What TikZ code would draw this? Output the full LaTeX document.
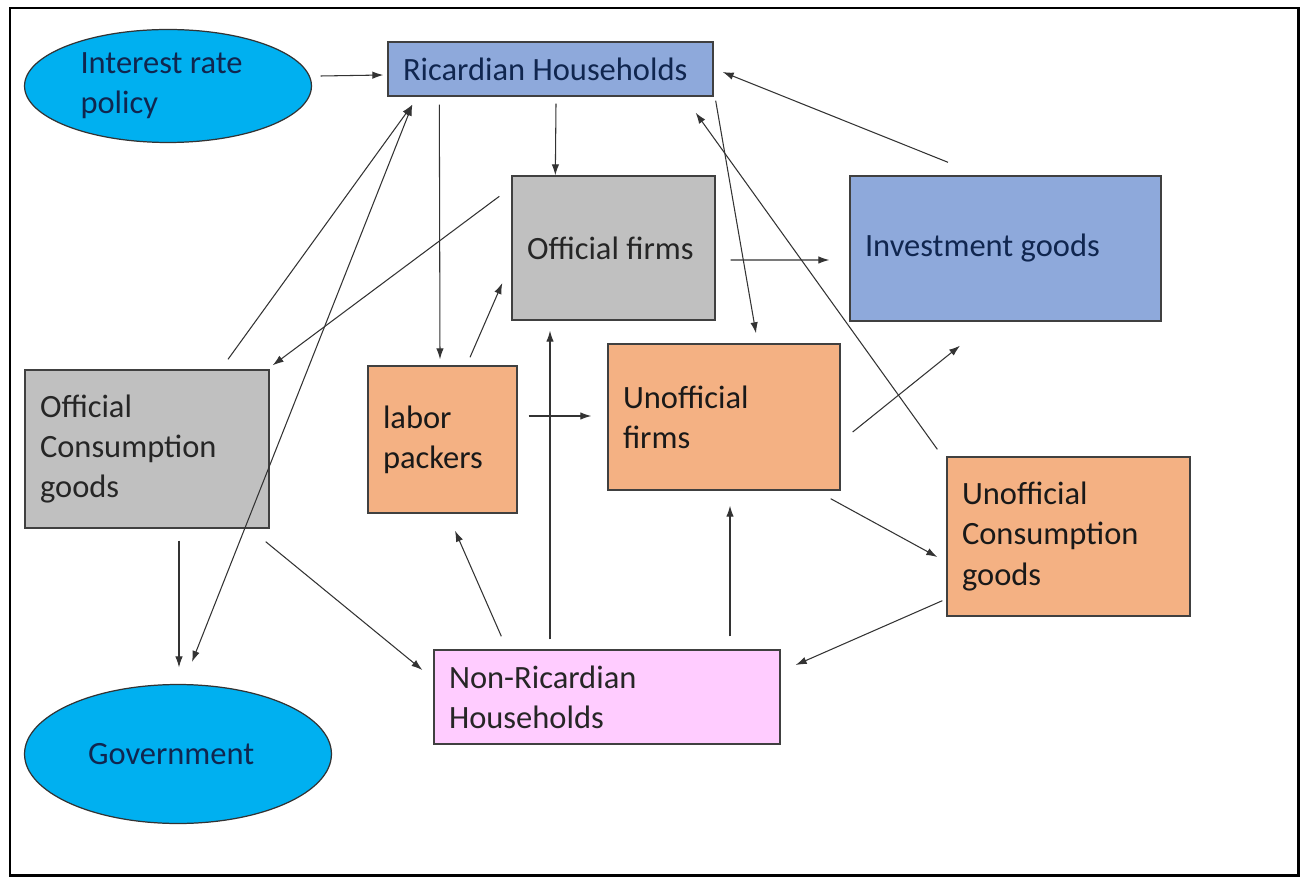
\documentclass[tikz,border=0pt]{standalone}
\usepackage{fontspec}
\setmainfont{Carlito}
\usepackage{tikz}
\usetikzlibrary{shapes,arrows.meta,positioning,calc}

\definecolor{policyblue}{HTML}{00B0F0}
\definecolor{hhblue}{HTML}{8EA9DB}
\definecolor{firmgray}{HTML}{C0C0C0}
\definecolor{informal}{HTML}{F4B183}
\definecolor{nonric}{HTML}{FFCCFF}
\definecolor{navytext}{HTML}{10264F}

\begin{document}
\begin{tikzpicture}[x=0.02cm, y=-0.02cm,
    sector/.style={rectangle, draw=black!75, line width=0.8pt, inner sep=0pt, align=flush left, font=\fontsize{18.5}{22.8}\selectfont},
    agent/.style={ellipse, draw=black!80, line width=0.7pt, fill=policyblue, text=navytext, inner sep=2pt, font=\fontsize{18.5}{22.8}\selectfont},
    arrow/.style={->, >={Latex[length=2.2mm,width=1.5mm]}, draw=black!80, line width=0.6pt}
]
\useasboundingbox (0,0) rectangle (1301,878);
\draw[line width=1.7pt] (10,8) rectangle (1298,875);

% policy and government
\node[agent, minimum width=5.74cm, minimum height=2.26cm, text width=3.5cm, align=flush left] (policy) at (168,86) {Interest rate\\policy};
\node[agent, minimum width=6.14cm, minimum height=2.78cm, text width=3.6cm, align=flush left] (gov) at (178,754) {Government};

% households
\node[sector, fill=hhblue, text=navytext, minimum width=6.5cm, minimum height=1.08cm, text width=5.9cm] (ric) at (550.5,69) {Ricardian Households};
\node[sector, fill=nonric, text=black!85, minimum width=6.92cm, minimum height=1.88cm, text width=6.32cm] (nonric) at (607,697) {Non-Ricardian\\Households};

% official sector
\node[sector, fill=firmgray, text=black!85, minimum width=4.06cm, minimum height=2.88cm, text width=3.46cm] (offirms) at (613.5,248) {Official firms};
\node[sector, fill=firmgray, text=black!85, minimum width=4.88cm, minimum height=3.16cm, text width=4.28cm] (offcons) at (147,449) {Official\\Consumption\\goods};
\node[sector, fill=hhblue, text=navytext, minimum width=6.22cm, minimum height=2.9cm, text width=5.62cm] (invest) at (1005.5,248.5) {Investment goods};

% unofficial sector
\node[sector, fill=informal, text=black!90, minimum width=2.98cm, minimum height=2.94cm, text width=2.38cm] (labor) at (442.5,439.5) {labor\\packers};
\node[sector, fill=informal, text=black!90, minimum width=4.64cm, minimum height=2.92cm, text width=4.04cm] (unfirms) at (724,417) {Unofficial\\firms};
\node[sector, fill=informal, text=black!90, minimum width=4.86cm, minimum height=3.18cm, text width=4.26cm] (uncons) at (1068.5,536.5) {Unofficial\\Consumption\\goods};

% flows
\draw[arrow] ($(policy.east)+(8.5,-10)$) -- ($(ric.west)+(-4,6)$);
\draw[arrow] ($(offcons.north)+(81,-10)$) -- ($(ric.south west)+(25,8)$);
\draw[arrow, <->] ($(ric.south west)+(25,8)$) -- ($(gov.north)+(14,-22)$);
\draw[arrow] ($(offirms.north west)+(-12,21)$) -- ($(offcons.north east)+(3,-4)$);
\draw[arrow] ($(ric.south west)+(52,8)$) -- ($(labor.north)+(-2.5,-6)$);
\draw[arrow] ($(ric.south)+(5.5,7)$) -- ($(offirms.north west)+(44,0)$);
\draw[arrow] ($(labor.north)+(27.5,-8)$) -- ($(offirms.west)+(-9,35)$);
\draw[arrow] ($(offirms.east)+(15,12)$) -- ($(invest.west)+(-20,11.5)$);
\draw[arrow] ($(ric.south east)+(2,4)$) -- ($(unfirms.north)+(32,-10)$);
\draw[arrow] ($(uncons.north west)+(-9,-7)$) -- ($(ric.south east)+(-18,16)$);
\draw[arrow] ($(invest.north)+(-57.5,-13)$) -- ($(ric.east)+(9,3)$);
\draw[arrow] ($(labor.east)+(11,-23.5)$) -- ($(unfirms.west)+(-16,-1)$);
\draw[arrow] ($(nonric.north)+(-57,-10)$) -- ($(offirms.south)+(-63.5,10)$);
\draw[arrow] ($(nonric.north west)+(68,-13)$) -- ($(labor.south)+(12.5,17)$);
\draw[arrow] ($(nonric.north)+(123,-13)$) -- ($(unfirms.south)+(6,15)$);
\draw[arrow] ($(unfirms.east)+(12,15)$) -- ($(invest.south)+(-45.5,24)$);
\draw[arrow] ($(unfirms.south east)+(-10,8)$) -- ($(uncons.west)+(-9,20.5)$);
\draw[arrow] ($(uncons.south west)+(-4,-16)$) -- ($(nonric.east)+(15,-32)$);
\draw[arrow] ($(offcons.south east)+(-4,13)$) -- ($(nonric.west)+(-11,-27)$);
\draw[arrow] ($(offcons.south)+(32,12)$) -- ($(gov.north)+(1,-16.5)$);

\end{tikzpicture}
\end{document}
